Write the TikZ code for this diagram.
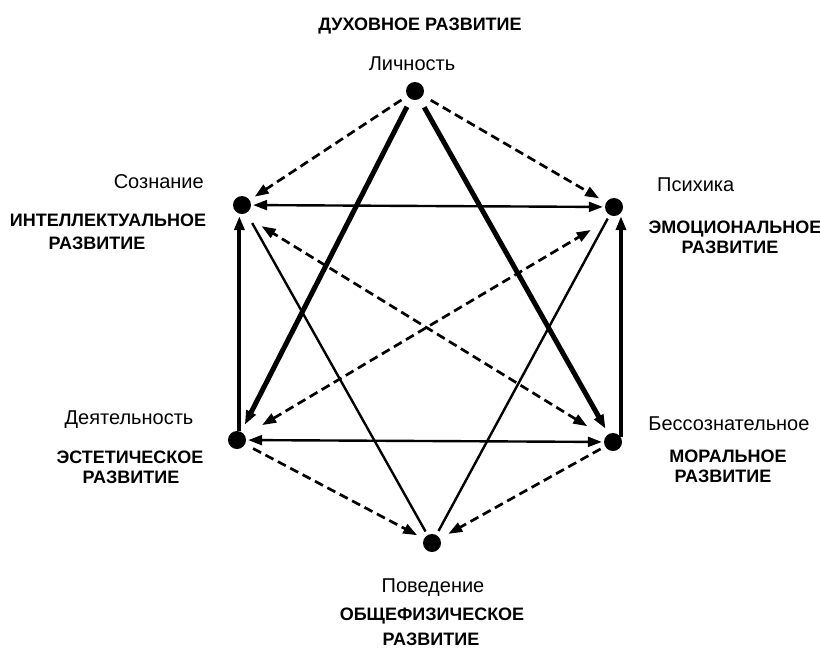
\documentclass[tikz,border=0pt]{standalone}
\usepackage{fontspec}
\setmainfont{Liberation Sans}
\usetikzlibrary{arrows.meta}
\begin{document}
\begin{tikzpicture}[x=1pt,y=-1pt,
  dot/.style={circle,fill=black,inner sep=0pt,minimum size=18pt},
  lab/.style={font=\fontsize{20}{24}\selectfont,inner sep=0pt},
  dev/.style={font=\bfseries\fontsize{18}{22}\selectfont,inner sep=0pt},
  dashline/.style={line width=2.7pt,dash pattern=on 9pt off 5pt},
  thinline/.style={line width=2.4pt},
  thickline/.style={line width=5pt},
  vline/.style={line width=4.2pt},
  arr/.style={-{Triangle[length=14pt,width=10pt]}},
  darr/.style={{Triangle[length=14pt,width=10pt]}-{Triangle[length=14pt,width=10pt]}}
]
\useasboundingbox (0,0) rectangle (820,649);
% dots
\node[dot] (lich) at (415,91) {};
\node[dot] (soz) at (242,205) {};
\node[dot] (psy) at (614,207) {};
\node[dot] (dej) at (237,440) {};
\node[dot] (bes) at (613,442) {};
\node[dot] (pov) at (432,543) {};
% labels
\node[dev,anchor=base] (t1) at (420,30) {ДУХОВНОЕ РАЗВИТИЕ};
\node[lab,anchor=base] (l1) at (412,70) {Личность};
\node[lab,anchor=base east] (l2) at (204,188) {Сознание};
\node[dev,anchor=base] (t2a) at (108,226) {ИНТЕЛЛЕКТУАЛЬНОЕ};
\node[dev,anchor=base] (t2b) at (97,249) {РАЗВИТИЕ};
\node[lab,anchor=base west] (l3) at (657,191) {Психика};
\node[dev,anchor=base] (t3a) at (735,233) {ЭМОЦИОНАЛЬНОЕ};
\node[dev,anchor=base] (t3b) at (730,253) {РАЗВИТИЕ};
\node[lab,anchor=base] (l4) at (129,424) {Деятельность};
\node[dev,anchor=base] (t4a) at (130,463) {ЭСТЕТИЧЕСКОЕ};
\node[dev,anchor=base] (t4b) at (131,483) {РАЗВИТИЕ};
\node[lab,anchor=base] (l5) at (729,430) {Бессознательное};
\node[dev,anchor=base] (t5a) at (728,462) {МОРАЛЬНОЕ};
\node[dev,anchor=base] (t5b) at (723,482) {РАЗВИТИЕ};
\node[lab,anchor=base] (l6) at (433,592) {Поведение};
\node[dev,anchor=base] (t6a) at (432,620) {ОБЩЕФИЗИЧЕСКОЕ};
\node[dev,anchor=base] (t6b) at (431,645) {РАЗВИТИЕ};
% connectors
\draw[dashline,arr,shorten <=7pt,shorten >=6pt] (lich) -- (soz);
\draw[dashline,arr,shorten <=9pt,shorten >=8pt] (lich) -- (psy);
\draw[thickline,arr,shorten <=8.5pt,shorten >=8pt] (lich) -- (dej);
\draw[thickline,arr,shorten <=9.5pt,shorten >=6pt] (lich) -- (bes);
\draw[thinline,darr,shorten <=2pt,shorten >=2pt] (soz) -- (psy);
\draw[thinline,darr,shorten <=2pt,shorten >=2pt] (dej) -- (bes);
\draw[vline,arr,shorten >=2pt] (dej.75) -- (dej.75 |- soz.south);
\draw[vline,arr] (bes.30) -- (bes.30 |- psy.south);
\draw[thinline,shorten <=11.5pt,shorten >=4pt] (soz) -- (pov);
\draw[thinline,shorten <=4pt,shorten >=4.5pt] (psy) -- (pov);
\draw[dashline,darr,shorten <=21pt,shorten >=23pt] (bes) -- (soz.south);
\draw[dashline,darr,shorten <=20pt,shorten >=27pt] (dej) -- (psy.south);
\draw[dashline,arr,shorten <=9pt,shorten >=7.5pt] (dej) -- (pov);
\draw[dashline,arr,shorten <=5pt,shorten >=9.5pt] (bes) -- (pov);
\end{tikzpicture}
\end{document}
